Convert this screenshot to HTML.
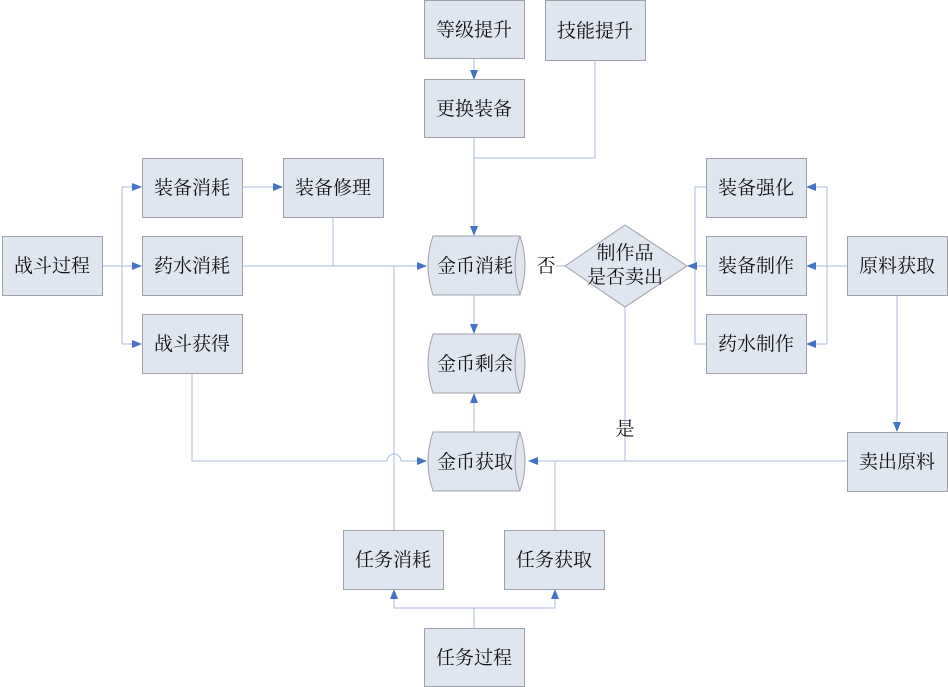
<!DOCTYPE html>
<html><head><meta charset="utf-8"><style>
html,body{margin:0;padding:0;background:#fff;}
svg{display:block;}
text{font-family:"Liberation Serif","Noto Serif CJK SC",serif;font-size:19px;fill:#111;}
.b{fill:#e0e6f0;stroke:#a0a0a8;stroke-width:1;}
.l{fill:none;stroke:#a9bcdc;stroke-width:1;}
</style></head><body>
<svg width="948" height="687" viewBox="0 0 948 687" xmlns="http://www.w3.org/2000/svg">
<defs>
<marker id="a" markerWidth="10" markerHeight="8" refX="9" refY="4" orient="auto" markerUnits="userSpaceOnUse">
<path d="M0,0 L10,4 L0,8 Z" fill="#4472c4"/></marker>
</defs>
<g class="l">
<path d="M474,58V79" marker-end="url(#a)"/>
<path d="M474,137V235" marker-end="url(#a)"/>
<path d="M595,60V158H474"/>
<path d="M102,266H141" marker-end="url(#a)"/>
<path d="M122,187V344"/>
<path d="M122,187H141" marker-end="url(#a)"/>
<path d="M122,344H141" marker-end="url(#a)"/>
<path d="M243,187H282" marker-end="url(#a)"/>
<path d="M333,217V266"/>
<path d="M243,266H426" marker-end="url(#a)"/>
<path d="M394,530V266"/>
<path d="M192,373V461H387A7,7 0 0 1 401,461H426" marker-end="url(#a)"/>
<path d="M474,295V333" marker-end="url(#a)"/>
<path d="M474,432V394" marker-end="url(#a)"/>
<path d="M556,266H565"/>
<path d="M625,307V461"/>
<path d="M847,461H529" marker-end="url(#a)"/>
<path d="M555,530V461"/>
<path d="M897,295V431" marker-end="url(#a)"/>
<path d="M847,266H807" marker-end="url(#a)"/>
<path d="M827,187V344"/>
<path d="M827,187H807" marker-end="url(#a)"/>
<path d="M827,344H807" marker-end="url(#a)"/>
<path d="M706,187H695V344H706"/>
<path d="M706,266H688" marker-end="url(#a)"/>
<path d="M474,628V608H394V590" marker-end="url(#a)"/>
<path d="M474,608H555V590" marker-end="url(#a)"/>
</g>
<g class="b">
<rect x="424.5" y="0.5" width="100" height="58"/>
<rect x="545.5" y="0.5" width="100" height="60"/>
<rect x="424.5" y="79.5" width="100" height="58"/>
<rect x="142.5" y="158.5" width="100" height="59"/>
<rect x="283.5" y="158.5" width="100" height="59"/>
<rect x="2.5" y="236.5" width="100" height="59"/>
<rect x="142.5" y="236.5" width="100" height="59"/>
<rect x="142.5" y="314.5" width="100" height="59"/>
<rect x="706.5" y="158.5" width="100" height="59"/>
<rect x="706.5" y="236.5" width="100" height="59"/>
<rect x="706.5" y="314.5" width="100" height="59"/>
<rect x="847.5" y="236.5" width="100" height="59"/>
<rect x="847.5" y="432.5" width="100" height="59"/>
<rect x="343.5" y="530.5" width="100" height="59"/>
<rect x="504.5" y="530.5" width="100" height="59"/>
<rect x="424.5" y="628.5" width="100" height="58"/>
<path d="M625,225 L687,266 L625,307 L565,266 Z"/>
<path d="M433,236 H520 Q530,265.5 520,295 H433 Q423,265.5 433,236 Z"/>
<path d="M433,334 H520 Q530,363.5 520,393 H433 Q423,363.5 433,334 Z"/>
<path d="M433,432 H520 Q530,461.5 520,491 H433 Q423,461.5 433,432 Z"/>
</g>
<g class="l" style="stroke:#a0a0a8">
<path d="M520,236 Q510,265.5 520,295"/>
<path d="M520,334 Q510,363.5 520,393"/>
<path d="M520,432 Q510,461.5 520,491"/>
</g>
<g text-anchor="middle">
<text x="474" y="36">等级提升</text>
<text x="595" y="37">技能提升</text>
<text x="474" y="115">更换装备</text>
<text x="192" y="194">装备消耗</text>
<text x="333" y="194">装备修理</text>
<text x="52" y="272">战斗过程</text>
<text x="192" y="272">药水消耗</text>
<text x="192" y="350">战斗获得</text>
<text x="756" y="194">装备强化</text>
<text x="756" y="272">装备制作</text>
<text x="756" y="350">药水制作</text>
<text x="897" y="272">原料获取</text>
<text x="897" y="468">卖出原料</text>
<text x="393" y="566">任务消耗</text>
<text x="554" y="566">任务获取</text>
<text x="474" y="664">任务过程</text>
<text x="475" y="272">金币消耗</text>
<text x="475" y="370">金币剩余</text>
<text x="475" y="468">金币获取</text>
<text x="625" y="259">制作品</text>
<text x="625" y="283">是否卖出</text>
<text x="546" y="272">否</text>
<text x="625" y="435">是</text>
</g>
</svg>
</body></html>
